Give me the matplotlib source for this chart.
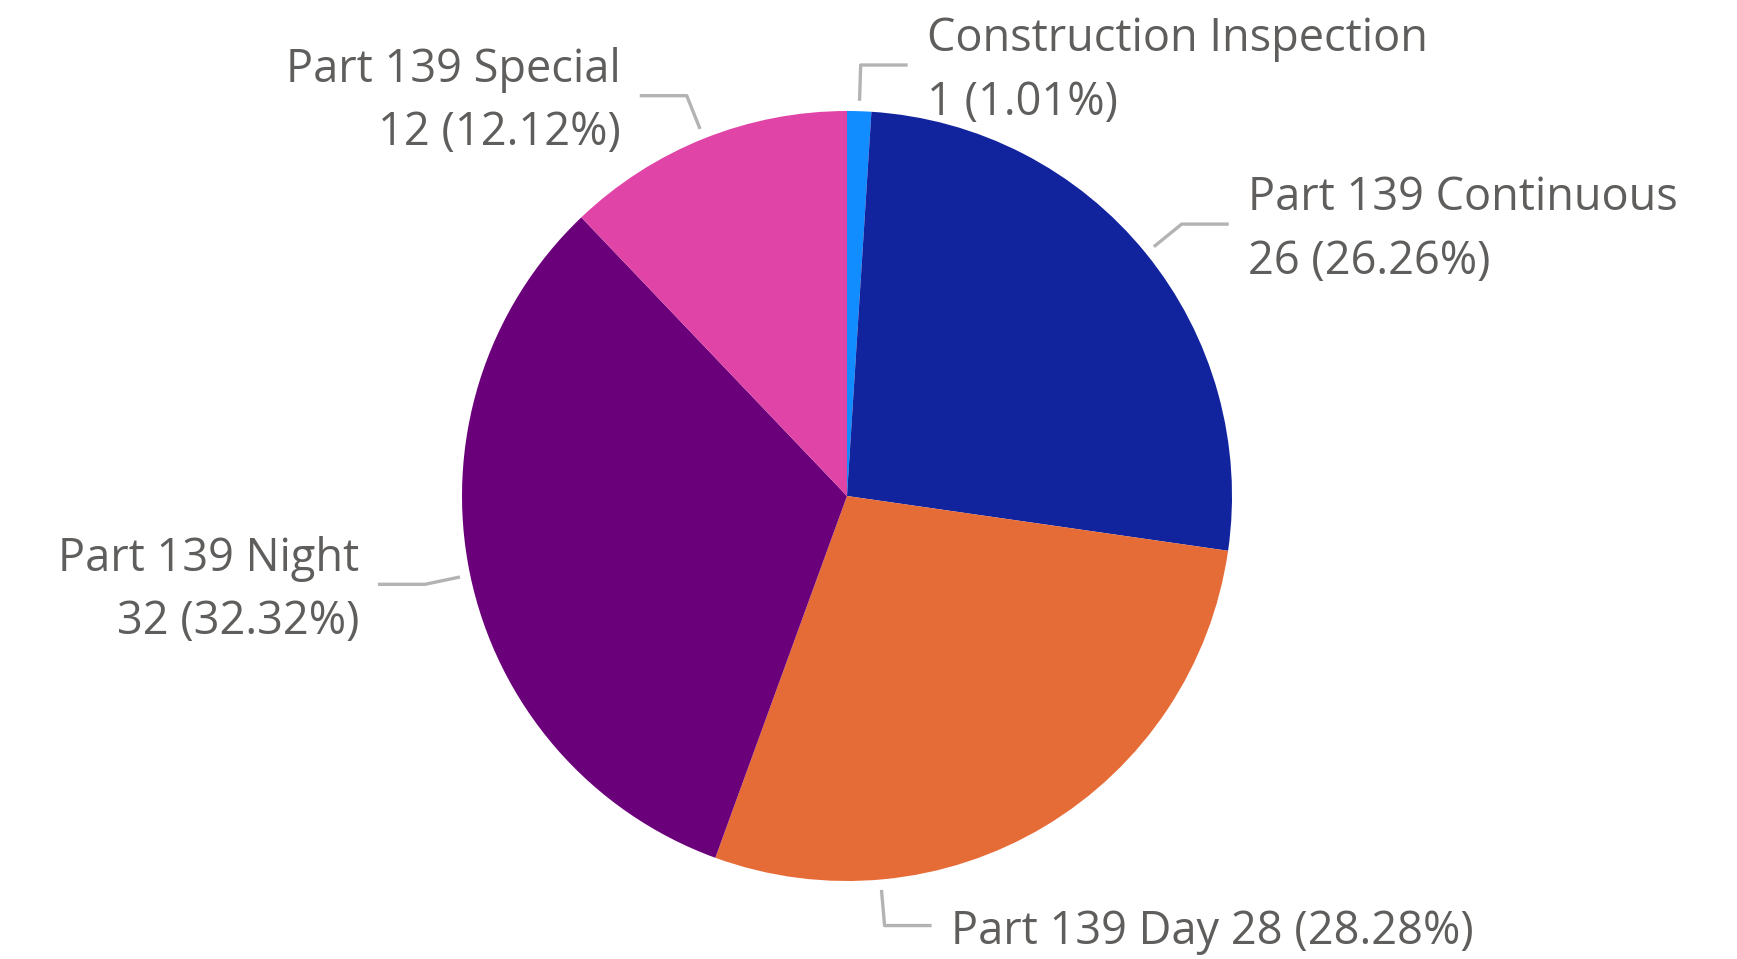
import numpy as np
import matplotlib.pyplot as plt

labels = ['Construction Inspection', 'Part 139 Continuous', 'Part 139 Day',
          'Part 139 Night', 'Part 139 Special']
values = [1, 26, 28, 32, 12]
colors = ['#118DFF', '#12239E', '#E66C37', '#6B007B', '#E044A7']

# label placement (angle override, side, one line or two)
label_angle = [None, None, 175, None, None]
label_side = [1, 1, 1, -1, -1]
one_line = [False, False, True, False, False]

W, H = 1737, 959
cx, cy, r = 847, 959 - 496, 385

fig = plt.figure(figsize=(W / 100, H / 100), dpi=100)
ax = fig.add_axes([0, 0, 1, 1])
ax.pie(values, colors=colors, startangle=90, counterclock=False,
       center=(cx, cy), radius=r, wedgeprops=dict(linewidth=0))
ax.set_xlim(0, W)
ax.set_ylim(0, H)
ax.axis('off')

total = sum(values)
start = 0
for i, v in enumerate(values):
    span = v / total * 360
    mid = start + span / 2
    start += span
    a = np.radians(label_angle[i] if label_angle[i] is not None else mid)
    dx, dy = np.sin(a), np.cos(a)
    p0 = (cx + r * 1.027 * dx, cy + r * 1.027 * dy)
    p1 = (cx + r * 1.12 * dx, cy + r * 1.12 * dy)
    s = label_side[i]
    p2 = (p1[0] + s * 47, p1[1])
    ax.plot([p0[0], p1[0], p2[0]], [p0[1], p1[1], p2[1]],
            color='#B3B3B3', lw=2.4, solid_capstyle='butt')
    pct = f'{v} ({v / total * 100:.2f}%)'
    txt = f'{labels[i]} {pct}' if one_line[i] else f'{labels[i]}\n{pct}'
    ax.text(p2[0] + s * 19, p2[1] - 6, txt, ha='left' if s > 0 else 'right',
            va='center', fontsize=32.5, color='#605E5C', family='Open Sans',
            linespacing=1.5, multialignment='left' if s > 0 else 'right')

fig.savefig('out.png', dpi=100)
